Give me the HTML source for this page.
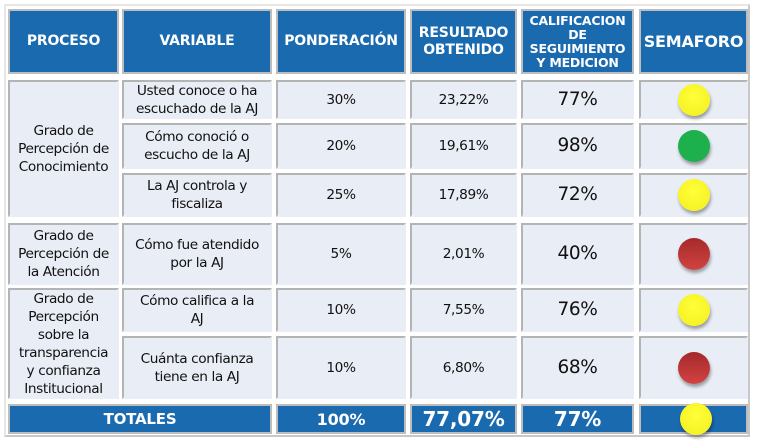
<!DOCTYPE html>
<html><head><meta charset="utf-8"><style>
body{margin:0;width:765px;height:448px;background:#fff;position:relative;overflow:hidden;font-family:"DejaVu Sans","Liberation Sans",sans-serif}
.o{position:absolute;left:4px;top:4px;width:746px;height:433px;border:2px solid #c8c8c8;border-top-color:#e6e6e6;border-left-color:#e6e6e6;box-sizing:border-box}
.c{position:absolute;display:flex;align-items:center;justify-content:center;text-align:center;box-sizing:border-box;background:#e9edf6;border:2px solid #b4b4b4;border-right-color:#e9edf6;border-bottom-color:#e9edf6;color:#111;font-size:13.7px;line-height:18px;letter-spacing:-0.4px}
.h{background:#1a6ab0;border-color:#bdbdbd;color:#fff;font-weight:bold;font-size:14px;line-height:15px;letter-spacing:-0.2px}
.big{font-size:18.5px}
.t{font-size:20px}
.dot{width:32px;height:32px;border-radius:50%;box-shadow:1px 3px 3px rgba(0,0,0,.35)}
.y{background:radial-gradient(circle at 50% 40%,#ffff3a,#f2ef1c)}
.g{background:#1db04c}
.r{background:linear-gradient(#a52a2a,#d24242)}
</style></head><body>
<div class="o"></div>
<div class="c h" style="left:8px;top:9px;width:111px;height:65px">PROCESO</div>
<div class="c h" style="left:122px;top:9px;width:150px;height:65px">VARIABLE</div>
<div class="c h" style="left:276px;top:9px;width:130px;height:65px">PONDERACIÓN</div>
<div class="c h" style="left:410px;top:9px;width:107px;height:65px;line-height:17px">RESULTADO<br>OBTENIDO</div>
<div class="c h" style="left:521px;top:9px;width:113px;height:65px;font-size:12.5px;line-height:14px">CALIFICACION<br>DE<br>SEGUIMIENTO<br>Y MEDICION</div>
<div class="c h" style="left:639px;top:9px;width:109px;height:65px;font-size:16px">SEMAFORO</div>
<div class="c" style="left:8px;top:80px;width:111px;height:137px">Grado de<br>Percepción de<br>Conocimiento</div>
<div class="c" style="left:8px;top:223px;width:111px;height:62px">Grado de<br>Percepción de<br>la Atención</div>
<div class="c" style="left:8px;top:288px;width:111px;height:111px">Grado de<br>Percepción<br>sobre la<br>transparencia<br>y confianza<br>Institucional</div>

<div class="c" style="left:122px;top:80px;width:150px;height:39px">Usted conoce o ha<br>escuchado de la AJ</div>
<div class="c" style="left:276px;top:80px;width:130px;height:39px">30%</div>
<div class="c" style="left:410px;top:80px;width:107px;height:39px">23,22%</div>
<div class="c big" style="left:521px;top:80px;width:113px;height:39px">77%</div>
<div class="c" style="left:639px;top:80px;width:109px;height:39px"><div class="dot y"></div></div>

<div class="c" style="left:122px;top:123px;width:150px;height:46px">Cómo conoció o<br>escucho de la AJ</div>
<div class="c" style="left:276px;top:123px;width:130px;height:46px">20%</div>
<div class="c" style="left:410px;top:123px;width:107px;height:46px">19,61%</div>
<div class="c big" style="left:521px;top:123px;width:113px;height:46px">98%</div>
<div class="c" style="left:639px;top:123px;width:109px;height:46px"><div class="dot g"></div></div>

<div class="c" style="left:122px;top:173px;width:150px;height:44px">La AJ controla y<br>fiscaliza</div>
<div class="c" style="left:276px;top:173px;width:130px;height:44px">25%</div>
<div class="c" style="left:410px;top:173px;width:107px;height:44px">17,89%</div>
<div class="c big" style="left:521px;top:173px;width:113px;height:44px">72%</div>
<div class="c" style="left:639px;top:173px;width:109px;height:44px"><div class="dot y"></div></div>

<div class="c" style="left:122px;top:223px;width:150px;height:62px">Cómo fue atendido<br>por la AJ</div>
<div class="c" style="left:276px;top:223px;width:130px;height:62px">5%</div>
<div class="c" style="left:410px;top:223px;width:107px;height:62px">2,01%</div>
<div class="c big" style="left:521px;top:223px;width:113px;height:62px">40%</div>
<div class="c" style="left:639px;top:223px;width:109px;height:62px"><div class="dot r"></div></div>

<div class="c" style="left:122px;top:288px;width:150px;height:44px">Cómo califica a la<br>AJ</div>
<div class="c" style="left:276px;top:288px;width:130px;height:44px">10%</div>
<div class="c" style="left:410px;top:288px;width:107px;height:44px">7,55%</div>
<div class="c big" style="left:521px;top:288px;width:113px;height:44px">76%</div>
<div class="c" style="left:639px;top:288px;width:109px;height:44px"><div class="dot y"></div></div>

<div class="c" style="left:122px;top:336px;width:150px;height:63px">Cuánta confianza<br>tiene en la AJ</div>
<div class="c" style="left:276px;top:336px;width:130px;height:63px">10%</div>
<div class="c" style="left:410px;top:336px;width:107px;height:63px">6,80%</div>
<div class="c big" style="left:521px;top:336px;width:113px;height:63px">68%</div>
<div class="c" style="left:639px;top:336px;width:109px;height:63px"><div class="dot r"></div></div>

<div class="c h" style="left:8px;top:404px;width:264px;height:30px;font-size:15px">TOTALES</div>
<div class="c h" style="left:276px;top:404px;width:130px;height:30px;font-size:16px">100%</div>
<div class="c h t" style="left:410px;top:404px;width:107px;height:30px">77,07%</div>
<div class="c h t" style="left:521px;top:404px;width:113px;height:30px">77%</div>
<div class="c h" style="left:639px;top:404px;width:109px;height:30px;overflow:visible"><div class="dot y" style="position:absolute;left:39px;top:-3px"></div></div>
</body></html>
